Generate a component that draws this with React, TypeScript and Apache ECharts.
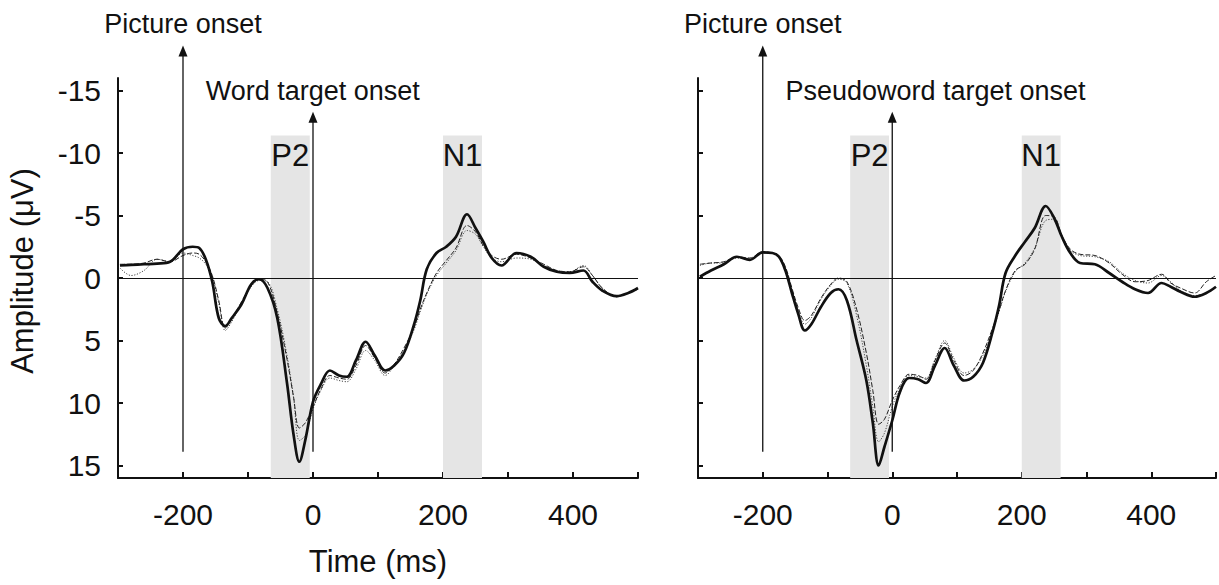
import React, { useEffect, useRef } from "react";
import * as echarts from "echarts";

// Time points (ms) shared by all waveforms
const times = [-297, -280, -260, -240, -220, -200, -185, -175, -165, -155, -145, -135, -125, -110, -95, -83, -70, -55, -40, -30, -21, -12, 0, 12, 26, 40, 52, 66, 81, 95, 111, 125, 140, 155, 165, 175, 190, 205, 220, 237, 250, 262, 275, 290, 313, 335, 355, 375, 395, 416, 430, 445, 467, 485, 500];

// Word panel (µV)
const wordSolid = [-1.0, -1.05, -1.1, -1.15, -1.3, -2.3, -2.5, -2.4, -1.5, 0.3, 3.2, 3.85, 3.2, 2.1, 0.5, 0.1, 0.8, 3.2, 8.4, 12.5, 14.7, 13.0, 9.9, 8.5, 7.4, 7.8, 7.9, 6.6, 5.1, 6.2, 7.4, 7.0, 6.0, 3.8, 1.8, -0.7, -2.0, -2.5, -3.3, -5.1, -4.0, -2.9, -1.6, -1.0, -2.0, -1.7, -0.9, -0.5, -0.4, -0.6, 0.3, 1.0, 1.45, 1.2, 0.8];
const wordDashed = [-1.1, -1.1, -1.2, -1.5, -1.3, -1.8, -2.0, -1.9, -1.3, -0.2, 1.8, 4.0, 3.3, 1.9, 0.6, 0.1, 0.3, 2.8, 6.5, 9.5, 12.0, 11.6, 10.3, 8.9, 7.8, 8.0, 8.1, 7.0, 5.4, 6.4, 7.6, 6.9, 5.6, 4.0, 2.5, 1.2, -0.4, -1.4, -2.4, -4.2, -3.7, -2.6, -1.8, -1.5, -1.9, -1.6, -1.1, -0.6, -0.5, -0.9, -0.2, 0.8, 1.5, 1.2, 0.9];
const wordDotted = [-0.8, -0.2, -0.6, -1.5, -1.3, -2.0, -1.8, -1.6, -1.1, -0.1, 2.0, 4.2, 3.5, 2.0, 0.7, 0.2, 0.3, 2.5, 6.2, 9.5, 13.0, 12.6, 10.5, 9.0, 8.0, 8.2, 8.3, 7.3, 5.8, 6.6, 7.8, 7.0, 5.8, 4.2, 2.7, 1.3, -0.2, -1.2, -2.2, -3.8, -3.5, -2.5, -1.6, -1.3, -1.6, -1.5, -1.0, -0.6, -0.5, -1.0, -0.2, 0.8, 1.5, 1.2, 0.9];

// Pseudoword panel (µV)
const pseudoSolid = [-0.1, -0.6, -1.1, -1.7, -1.45, -2.05, -2.0, -1.7, -0.6, 1.2, 2.9, 4.2, 3.7, 2.3, 1.2, 0.9, 1.8, 5.0, 8.2, 11.6, 15.0, 13.5, 11.4, 9.1, 8.0, 8.1, 8.4, 7.0, 5.6, 7.0, 8.2, 7.9, 6.8, 4.3, 2.2, -0.4, -1.8, -2.9, -4.0, -5.76, -4.8, -3.3, -2.0, -1.2, -1.1, -0.4, 0.3, 0.9, 1.2, 0.4, 0.7, 1.1, 1.5, 1.2, 0.7];
const pseudoDashed = [-1.1, -1.2, -1.3, -1.7, -1.6, -2.1, -2.0, -1.8, -0.9, 0.8, 2.4, 3.4, 3.0, 1.6, 0.5, 0.0, 0.3, 2.5, 6.0, 9.0, 11.7, 11.3, 9.8, 8.6, 7.7, 7.8, 8.1, 6.6, 5.2, 6.6, 7.8, 7.4, 6.0, 4.0, 2.6, 1.0, -0.6, -1.1, -2.3, -5.0, -4.9, -3.4, -2.3, -1.9, -1.8, -1.2, -0.3, 0.3, 0.2, -0.3, 0.4, 0.8, 1.2, 0.3, -0.2];
const pseudoDotted = [-1.0, -1.2, -1.2, -1.6, -1.5, -2.0, -2.0, -1.7, -0.8, 0.9, 2.6, 3.7, 3.2, 1.7, 0.6, 0.1, 0.4, 3.0, 7.0, 10.3, 13.1, 12.4, 10.3, 8.8, 7.8, 7.9, 8.0, 6.5, 5.0, 6.4, 7.6, 7.3, 6.2, 4.2, 2.7, 1.1, -0.5, -1.2, -2.4, -4.6, -4.7, -3.3, -2.2, -1.8, -1.7, -1.3, -0.4, 0.2, 0.4, -0.2, 0.3, 1.0, 1.4, 1.2, 0.7];

// Component windows (ms) and their labels
const windowLabels = ["P2", "N1"];
const windowStarts = [-65, 200];
const windowEnds = [-5, 260];
const windowTop = -11.4;

// Onset arrows: time, arrow tip (µV), line bottom (µV)
const onsetTimes = [-200, 0];
const onsetTips = [-18.6, -13.3];
const onsetBottom = 13.9;

// Onset texts
const leftTexts = ["Picture onset", "Word target onset"];
const rightTexts = ["Picture onset", "Pseudoword target onset"];
const textTimes = [-200, -165];
const textValues = [-20.3, -15.0];
const textAligns = ["center", "left"];

const yTicks = [-15, -10, -5, 0, 5, 10, 15];

const FONT = "'Liberation Sans', Arial, Helvetica, sans-serif";

export default function App() {
  const ref = useRef<HTMLDivElement>(null);

  useEffect(() => {
    if (!ref.current) return;
    const chart = echarts.init(ref.current, null, { renderer: "svg" });

    const pair = (arr: number[]) => times.map((t, i) => [t, arr[i]]);

    const makeXAxis = (idx: number, withName: boolean) => ({
      type: "value",
      gridIndex: idx,
      min: -300,
      max: 500,
      interval: 100,
      axisLine: { show: true, onZero: false, lineStyle: { color: "#111", width: 2 } },
      axisTick: { show: true, inside: true, length: 6, lineStyle: { color: "#111", width: 2 } },
      axisLabel: {
        show: true,
        margin: 21,
        fontSize: 30,
        color: "#111",
        fontFamily: FONT,
        formatter: (v: number) => (v % 200 === 0 ? String(v) : ""),
      },
      splitLine: { show: false },
      name: withName ? "Time (ms)" : "",
      nameLocation: "middle",
      nameGap: 68,
      nameTextStyle: { fontSize: 31, color: "#111", fontFamily: FONT },
    });

    const makeYAxis = (idx: number, withLabels: boolean) => ({
      type: "value",
      gridIndex: idx,
      inverse: true,
      min: -16,
      max: 16,
      axisLine: { show: true, onZero: false, lineStyle: { color: "#111", width: 2 } },
      axisTick: { show: true, inside: true, length: 5, customValues: yTicks, lineStyle: { color: "#111", width: 2 } },
      axisLabel: {
        show: withLabels,
        customValues: yTicks,
        margin: 17,
        fontSize: 30,
        color: "#111",
        fontFamily: FONT,
      },
      splitLine: { show: false },
      name: withLabels ? "Amplitude (\u03bcV)" : "",
      nameLocation: "middle",
      nameGap: 80,
      nameRotate: 90,
      nameTextStyle: { fontSize: 31, color: "#111", fontFamily: FONT, padding: [0, 0, 0, 14] },
    });

    const bandData = windowLabels.map((name, i) => [
      { name, xAxis: windowStarts[i], yAxis: windowTop },
      { xAxis: windowEnds[i], yAxis: 16 },
    ]);

    const panelSeries = (idx: number, solid: number[], dashed: number[], dotted: number[], texts: string[]) => [
      {
        type: "line",
        xAxisIndex: idx,
        yAxisIndex: idx,
        data: pair(dotted),
        smooth: 0.35,
        showSymbol: false,
        z: 3,
        lineStyle: { color: "#444", width: 1, type: [1.2, 1.6] },
      },
      {
        type: "line",
        xAxisIndex: idx,
        yAxisIndex: idx,
        data: pair(dashed),
        smooth: 0.35,
        showSymbol: false,
        z: 3,
        lineStyle: { color: "#222", width: 1, type: [5, 2] },
        markArea: {
          silent: true,
          itemStyle: { color: "#e5e5e5" },
          label: {
            show: true,
            position: "insideTop",
            distance: 4,
            fontSize: 31,
            color: "#111",
            fontFamily: FONT,
          },
          data: bandData,
        },
      },
      {
        type: "line",
        xAxisIndex: idx,
        yAxisIndex: idx,
        data: pair(solid),
        smooth: 0.35,
        showSymbol: false,
        z: 4,
        lineStyle: { color: "#111", width: 2.7 },
        markLine: {
          silent: true,
          symbol: ["none", "none"],
          label: { show: false },
          lineStyle: { color: "#111", width: 1.2, type: "solid" },
          data: [{ yAxis: 0 }],
        },
      },
      {
        type: "custom",
        xAxisIndex: idx,
        yAxisIndex: idx,
        clip: false,
        z: 5,
        silent: true,
        data: onsetTimes.map((t, i) => [t, onsetTips[i], onsetBottom]),
        renderItem: (params: any, api: any) => {
          const x = api.value(0);
          const tip = api.coord([x, api.value(1)]);
          const bot = api.coord([x, api.value(2)]);
          return {
            type: "group",
            children: [
              {
                type: "line",
                shape: { x1: tip[0], y1: tip[1] + 8, x2: bot[0], y2: bot[1] },
                style: { stroke: "#111", lineWidth: 1.3 },
              },
              {
                type: "polygon",
                shape: { points: [[tip[0], tip[1]], [tip[0] - 4.5, tip[1] + 11], [tip[0] + 4.5, tip[1] + 11]] },
                style: { fill: "#111" },
              },
            ],
          };
        },
      },
      {
        type: "custom",
        xAxisIndex: idx,
        yAxisIndex: idx,
        clip: false,
        z: 5,
        silent: true,
        data: textTimes.map((t, i) => [t, textValues[i]]),
        renderItem: (params: any, api: any) => {
          const p = api.coord([api.value(0), api.value(1)]);
          return {
            type: "text",
            x: p[0],
            y: p[1],
            style: {
              text: texts[params.dataIndex],
              fontSize: 27,
              fontFamily: FONT,
              fill: "#111",
              align: textAligns[params.dataIndex],
              verticalAlign: "middle",
            },
          };
        },
      },
    ];

    chart.setOption({
      animation: false,
      backgroundColor: "#fff",
      grid: [
        { left: 118, top: 78, width: 520, height: 400, containLabel: false },
        { left: 698, top: 78, width: 520, height: 400, containLabel: false },
      ],
      xAxis: [makeXAxis(0, true), makeXAxis(1, false)],
      yAxis: [makeYAxis(0, true), makeYAxis(1, false)],
      series: [
        ...panelSeries(0, wordSolid, wordDashed, wordDotted, leftTexts),
        ...panelSeries(1, pseudoSolid, pseudoDashed, pseudoDotted, rightTexts),
      ],
    });

    return () => chart.dispose();
  }, []);

  return (
    <div
      ref={ref}
      style={{ position: "absolute", left: 0, top: 0, width: 1219, height: 585, background: "#fff" }}
    />
  );
}
